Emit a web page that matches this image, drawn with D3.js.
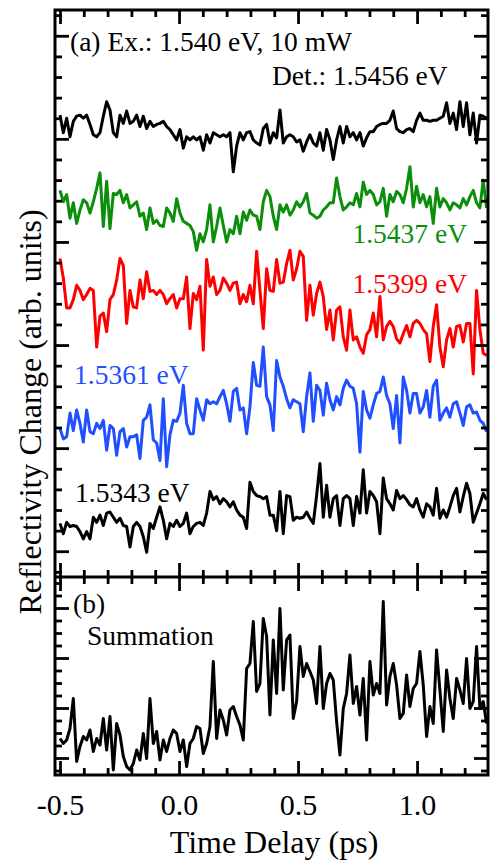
<!DOCTYPE html>
<html>
  <head>
    <meta charset="utf-8" />
    <script src="https://d3js.org/d3.v7.min.js"></script>
    <style>
      body { margin: 0; background: #fff; }
      svg text { font-family: 'Liberation Serif', 'Times New Roman', serif; }
    </style>
    <title>Reflectivity Change</title>
  </head>

  <body>
    <div id="chart"></div>
  </body>

  <script>
    // delay grid (ps)
    var delayStart = -0.5;
    var delayStep = 0.014;
    var pointCount = 129;

    // panel (a): one trace per detection energy, offsets included (arb. units)
    var trace15456 = [
      4.23, 4.06, 4.20, 4.02, 4.17, 4.22, 4.23, 4.20, 4.23, 4.14,
      4.04, 4.02, 4.06, 4.22, 4.36, 4.28, 4.06, 4.02, 4.23, 4.15,
      4.27, 4.15, 4.17, 4.23, 4.12, 4.22, 4.10, 4.17, 4.12, 4.14,
      4.15, 4.17, 4.12, 4.09, 4.04, 3.99, 4.09, 3.91, 4.02, 3.99,
      4.02, 3.99, 4.02, 3.89, 4.04, 3.96, 4.06, 4.04, 4.02, 4.04,
      4.02, 4.06, 3.68, 3.93, 4.06, 3.99, 4.06, 4.07, 3.99, 3.96,
      3.94, 4.10, 4.14, 3.96, 4.06, 4.01, 4.28, 3.96, 4.02, 4.04,
      4.02, 3.97, 3.99, 3.88, 3.97, 4.04, 3.96, 3.93, 4.06, 3.89,
      4.09, 3.99, 3.80, 3.99, 4.12, 3.96, 4.12, 4.02, 4.06, 3.99,
      4.06, 3.93, 4.01, 4.07, 4.07, 4.12, 4.14, 4.15, 4.15, 4.18,
      4.27, 4.10, 4.07, 4.06, 4.09, 4.10, 4.07, 4.18, 4.25, 4.18,
      4.18, 4.17, 4.18, 4.18, 4.20, 4.22, 4.35, 4.15, 4.25, 4.09,
      4.36, 4.12, 4.35, 4.04, 4.25, 3.96, 4.23, 4.22, 4.20
    ];
    var trace15437 = [
      3.50, 3.39, 3.46, 3.23, 3.38, 3.18, 3.31, 3.41, 3.38, 3.28,
      3.39, 3.52, 3.67, 3.15, 3.59, 3.13, 3.47, 3.46, 3.50, 3.38,
      3.46, 3.33, 3.36, 3.39, 3.25, 3.28, 3.12, 3.33, 3.18, 3.21,
      3.16, 3.15, 3.33, 3.28, 3.20, 3.42, 3.28, 3.20, 3.18, 3.16,
      3.10, 2.92, 3.08, 3.00, 3.12, 3.36, 3.00, 3.15, 3.33, 3.16,
      3.00, 3.12, 3.08, 3.25, 3.08, 3.29, 3.21, 3.31, 3.26, 3.25,
      3.12, 3.39, 3.50, 3.44, 3.25, 3.12, 3.36, 3.29, 3.36, 3.26,
      3.31, 3.39, 3.34, 3.39, 3.47, 3.28, 3.26, 3.23, 3.25, 3.31,
      3.34, 3.38, 3.38, 3.62, 3.44, 3.31, 3.34, 3.38, 3.36, 3.47,
      3.34, 3.58, 3.46, 3.50, 3.46, 3.36, 3.39, 3.52, 3.25, 3.46,
      3.39, 3.49, 3.46, 3.38, 3.52, 3.73, 3.34, 3.54, 3.38, 3.46,
      3.34, 3.44, 3.18, 3.52, 3.34, 3.42, 3.38, 3.31, 3.38, 3.36,
      3.33, 3.42, 3.36, 3.44, 3.50, 3.38, 3.33, 3.60, 3.33
    ];
    var trace15399 = [
      2.84, 2.65, 2.36, 2.36, 2.44, 2.58, 2.53, 2.44, 2.49, 2.55,
      2.53, 1.98, 2.28, 2.31, 2.13, 2.44, 2.49, 2.63, 2.84, 2.77,
      2.21, 2.53, 2.37, 2.36, 2.63, 2.45, 2.71, 2.52, 2.53, 2.49,
      2.53, 2.49, 2.40, 2.45, 2.49, 2.36, 2.45, 2.45, 2.66, 2.16,
      2.50, 2.44, 2.57, 1.95, 2.83, 2.57, 2.66, 2.49, 2.53, 2.65,
      2.60, 2.53, 2.60, 2.61, 2.40, 2.49, 2.42, 2.58, 2.40, 2.91,
      2.53, 2.16, 2.74, 2.53, 2.52, 2.83, 2.60, 2.61, 2.79, 2.92,
      2.63, 2.74, 2.91, 2.86, 2.24, 2.58, 2.29, 2.50, 2.61, 2.47,
      2.15, 2.34, 2.05, 2.34, 2.37, 2.08, 1.95, 2.34, 2.05, 2.08,
      1.98, 1.92, 2.10, 2.15, 2.31, 2.08, 2.47, 2.05, 2.18, 2.23,
      2.18, 2.06, 2.02, 2.11, 2.19, 2.08, 2.21, 2.24, 2.21, 2.15,
      2.11, 1.84, 2.18, 2.39, 1.98, 1.79, 2.05, 2.16, 1.98, 2.18,
      2.19, 2.03, 2.21, 2.21, 1.72, 2.53, 2.15, 1.92, 1.90
    ];
    var trace15361 = [
      1.19, 1.09, 1.11, 1.34, 1.17, 1.37, 1.24, 1.06, 1.37, 1.16,
      1.14, 1.24, 1.19, 1.27, 0.98, 1.22, 1.19, 0.93, 1.16, 1.19,
      1.01, 1.11, 1.11, 1.13, 0.90, 1.27, 1.30, 1.42, 1.08, 1.05,
      0.88, 1.48, 0.82, 1.13, 1.27, 1.26, 1.34, 1.61, 1.24, 1.14,
      1.14, 1.48, 1.37, 1.27, 1.47, 1.43, 1.45, 1.43, 1.50, 1.56,
      1.43, 1.26, 1.55, 1.58, 1.37, 1.39, 1.14, 1.40, 1.83, 1.61,
      1.60, 1.98, 1.50, 1.42, 1.17, 1.85, 1.69, 1.60, 1.48, 1.39,
      1.47, 1.45, 1.43, 1.16, 1.50, 1.73, 1.26, 1.61, 1.56, 1.32,
      1.63, 1.47, 1.37, 1.50, 1.42, 1.58, 1.66, 1.60, 1.58, 1.43,
      0.96, 1.55, 1.37, 1.29, 1.42, 1.53, 1.55, 1.69, 1.51, 1.43,
      1.19, 1.51, 1.05, 1.69, 1.56, 1.34, 1.53, 1.53, 1.34, 1.40,
      1.56, 1.30, 1.60, 1.66, 1.27, 1.34, 1.39, 1.30, 1.43, 1.45,
      1.34, 1.22, 1.40, 1.42, 1.34, 1.35, 1.27, 1.24, 1.16
    ];
    var trace15343 = [
      0.27, 0.17, 0.28, 0.24, 0.25, 0.24, 0.19, 0.12, 0.19, 0.12,
      0.33, 0.28, 0.35, 0.25, 0.37, 0.38, 0.33, 0.28, 0.32, 0.25,
      0.24, 0.04, 0.24, 0.28, 0.24, 0.14, -0.01, 0.27, 0.22, 0.33,
      0.43, 0.30, 0.12, 0.27, 0.24, 0.30, 0.24, 0.27, 0.37, 0.17,
      0.24, 0.27, 0.28, 0.25, 0.37, 0.58, 0.50, 0.53, 0.46, 0.51,
      0.48, 0.43, 0.48, 0.40, 0.35, 0.33, 0.22, 0.67, 0.58, 0.54,
      0.53, 0.51, 0.53, 0.35, 0.35, 0.20, 0.58, 0.17, 0.54, 0.53,
      0.30, 0.33, 0.32, 0.33, 0.38, 0.32, 0.27, 0.54, 0.85, 0.33,
      0.64, 0.33, 0.51, 0.54, 0.25, 0.51, 0.54, 0.51, 0.25, 0.53,
      0.37, 0.79, 0.37, 0.58, 0.54, 0.48, 0.17, 0.71, 0.51, 0.46,
      0.40, 0.59, 0.51, 0.54, 0.50, 0.45, 0.43, 0.51, 0.40, 0.33,
      0.46, 0.43, 0.35, 0.61, 0.32, 0.40, 0.33, 0.43, 0.54, 0.61,
      0.38, 0.53, 0.66, 0.56, 0.28, 0.37, 0.46, 0.56, 0.50
    ];

    // panel (b): summation (arb. units)
    var traceSum = [
      0.39, 0.29, 0.36, 0.59, 1.19, -0.07, 0.23, 0.43, 0.36, 0.56,
      0.13, 0.39, 0.26, 0.79, 0.16, 0.83, -0.24, 0.69, 0.46, 0.03,
      -0.17, -0.24, -0.11, 0.16, -0.04, 0.49, -0.01, 1.19, 0.29, 0.53,
      -0.04, 0.36, 0.13, 0.39, 0.56, 0.49, 0.13, 0.36, -0.17, 0.29,
      0.39, 0.63, 0.59, 0.09, 0.29, 0.63, 1.93, 0.39, 0.96, 0.76,
      0.46, 0.96, 1.03, 0.83, 0.66, 0.36, 1.79, 1.89, 2.73, 1.33,
      1.49, 2.79, 2.43, 0.86, 2.36, 1.29, 2.99, 1.36, 2.36, 2.46,
      0.79, 1.13, 2.23, 1.63, 1.89, 1.73, 1.56, 1.09, 2.23, 0.99,
      1.49, 1.69, 1.56, 0.73, 0.06, 0.99, 1.29, 2.06, 1.09, 1.43,
      0.86, 1.59, 0.36, 1.93, 1.26, 1.49, 1.29, 3.13, 1.06, 1.63,
      1.89, 1.46, 0.79, 0.89, 1.66, 1.03, 1.39, 1.49, 2.13, 1.46,
      0.43, 1.03, 0.69, 2.16, 1.36, 0.53, 1.76, 1.19, 0.79, 1.59,
      1.36, 1.09, 1.99, 0.99, 1.13, 2.23, 0.99, 1.13, 0.69
    ];

    var traceNames = ['1.5456 eV', '1.5437 eV', '1.5399 eV', '1.5361 eV', '1.5343 eV'];
    var xMajorTicks = [-0.5, 0.0, 0.5, 1.0];

    var delays = d3.range(pointCount).map((i) => delayStart + delayStep * i);

    var width = 490,
      height = 865;
    var left = 55,
      right = 488,
      topA = 10,
      split = 577,
      bottomB = 775;

    var svg = d3
      .select('#chart')
      .append('svg')
      .attr('width', width)
      .attr('height', height);

    var x = d3.scaleLinear().domain([-0.521, 1.298]).range([left, right]);
    var yA = d3.scaleLinear().domain([-0.25, 5.25]).range([split, topA]);
    var yB = d3.scaleLinear().domain([-0.34, 3.62]).range([bottomB, split]);

    var seriesA = [
      { values: trace15456, color: '#000000' },
      { values: trace15437, color: '#0b8f0b' },
      { values: trace15399, color: '#ff0000' },
      { values: trace15361, color: '#1f4fff' },
      { values: trace15343, color: '#000000' },
    ];

    // traces
    var lineA = d3
      .line()
      .x((d, i) => x(delays[i]))
      .y((d) => yA(d));
    var lineB = d3
      .line()
      .x((d, i) => x(delays[i]))
      .y((d) => yB(d));

    svg
      .append('g')
      .selectAll('path')
      .data(seriesA)
      .join('path')
      .attr('d', (d) => lineA(d.values))
      .attr('fill', 'none')
      .attr('stroke', (d) => d.color)
      .attr('stroke-width', 3)
      .attr('stroke-linejoin', 'round');

    svg
      .append('path')
      .attr('d', lineB(traceSum))
      .attr('fill', 'none')
      .attr('stroke', '#000')
      .attr('stroke-width', 3)
      .attr('stroke-linejoin', 'round');

    // ticks, all pointing inward
    function minorOf(lo, hi, step, majors) {
      return d3
        .range(Math.round((hi - lo) / step) + 1)
        .map((i) => +(lo + i * step).toFixed(3))
        .filter((v) => majors.indexOf(v) < 0);
    }

    var xMinor = minorOf(-0.5, 1.2, 0.1, xMajorTicks);
    var yAMajor = [0, 1, 2, 3, 4, 5];
    var yAMinor = minorOf(-0.2, 5.2, 0.2, yAMajor);
    var yBMajor = [0, 1, 2, 3];
    var yBMinor = minorOf(-0.25, 3.5, 0.25, yBMajor);

    function drawTicks(axis, values, size, tx, ty) {
      var g = svg
        .append('g')
        .attr('transform', 'translate(' + tx + ',' + ty + ')')
        .call(axis.tickValues(values).tickSize(-size).tickFormat(''));
      g.select('.domain').remove();
      g.selectAll('line').attr('stroke', '#000').attr('stroke-width', 2.8);
      return g;
    }

    [
      [d3.axisTop, topA],
      [d3.axisBottom, split],
      [d3.axisTop, split],
    ].forEach(function (p) {
      drawTicks(p[0](x), xMajorTicks, 14, 0, p[1]);
      drawTicks(p[0](x), xMinor, 7, 0, p[1]);
    });
    drawTicks(d3.axisBottom(x), xMinor, 7, 0, bottomB);

    [
      [yA, yAMajor, yAMinor],
      [yB, yBMajor, yBMinor],
    ].forEach(function (p) {
      drawTicks(d3.axisLeft(p[0]), p[1], 14, left, 0);
      drawTicks(d3.axisLeft(p[0]), p[2], 7, left, 0);
      drawTicks(d3.axisRight(p[0]), p[1], 14, right, 0);
      drawTicks(d3.axisRight(p[0]), p[2], 7, right, 0);
    });

    // bottom axis with labels
    var xAxis = svg
      .append('g')
      .attr('transform', 'translate(0,' + bottomB + ')')
      .call(
        d3
          .axisBottom(x)
          .tickValues(xMajorTicks)
          .tickSize(-14)
          .tickPadding(19)
          .tickFormat((d) => d.toFixed(1))
      );
    xAxis.select('.domain').remove();
    xAxis.selectAll('line').attr('stroke', '#000').attr('stroke-width', 2.8);
    xAxis
      .selectAll('text')
      .style('font-family', "'Liberation Serif', 'Times New Roman', serif")
      .style('font-size', '30px')
      .attr('fill', '#000');

    // frame
    svg
      .append('rect')
      .attr('x', left)
      .attr('y', topA)
      .attr('width', right - left)
      .attr('height', bottomB - topA)
      .attr('fill', 'none')
      .attr('stroke', '#000')
      .attr('stroke-width', 3);
    svg
      .append('line')
      .attr('x1', left)
      .attr('x2', right)
      .attr('y1', split)
      .attr('y2', split)
      .attr('stroke', '#000')
      .attr('stroke-width', 3);

    // annotations
    function note(txt, px, py, color, anchor) {
      svg
        .append('text')
        .attr('x', px)
        .attr('y', py)
        .attr('fill', color)
        .style('font-size', '27.5px')
        .style('text-anchor', anchor || 'start')
        .text(txt);
    }
    note('(a) Ex.: 1.540 eV, 10 mW', 70, 51, '#000');
    note('Det.: ' + traceNames[0], 272, 85, '#000');
    note(traceNames[1], 467, 243, seriesA[1].color, 'end');
    note(traceNames[2], 467, 293, seriesA[2].color, 'end');
    note(traceNames[3], 74, 384, seriesA[3].color);
    note(traceNames[4], 75, 502, seriesA[4].color);
    note('(b)', 73, 613, '#000');
    note('Summation', 87, 645, '#000');

    // axis titles
    svg
      .append('text')
      .attr('x', 274)
      .attr('y', 853)
      .style('font-size', '32px')
      .style('text-anchor', 'middle')
      .text('Time Delay (ps)');

    svg
      .append('text')
      .attr('transform', 'translate(41,412) rotate(-90)')
      .style('font-size', '32px')
      .style('text-anchor', 'middle')
      .text('Reflectivity Change (arb. units)');
  </script>
</html>
